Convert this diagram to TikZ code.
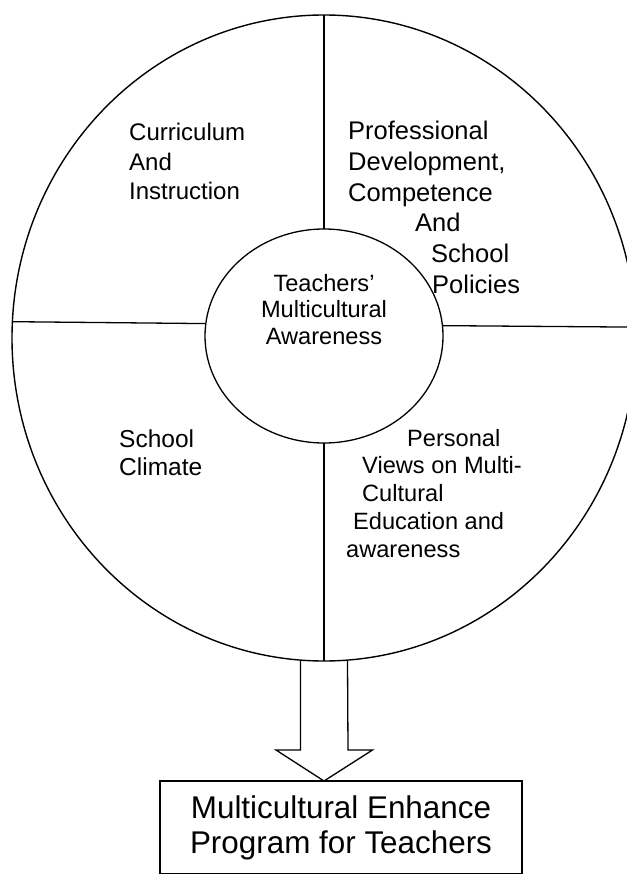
\documentclass[tikz,border=0pt]{standalone}
\usepackage{fontspec}
\setmainfont{Liberation Sans}
\usetikzlibrary{shapes,positioning,calc}

\begin{document}
\begin{tikzpicture}[
  x=1pt, y=-1pt,
  ring/.style={draw, ellipse, line width=1.4pt, inner sep=0pt, outer sep=0pt},
  divide/.style={line width=1.3pt},
  sector/.style={anchor=base west, align=left, inner sep=0pt},
  hubtext/.style={anchor=base, align=center, inner sep=0pt,
                  font=\fontsize{23.6}{26.5}\selectfont},
  progbox/.style={draw, line width=1.3pt, minimum width=362, minimum height=93,
                  inner sep=0pt, outer sep=0pt, align=center,
                  font=\fontsize{31.4}{35}\selectfont}
]
\useasboundingbox (0,0) rectangle (626,874);

% Outer circle and the hub in the middle
\node[ring, minimum width=624, minimum height=646] (outer) at (324,338) {};
\node[ring, line width=1.3pt, minimum width=238, minimum height=214] (hub) at (324,336) {};

% Quarter lines
\draw[divide] (outer.north) -- (hub.north);
\draw[divide] (hub.south) -- (outer.south);
\draw[divide] (outer.177.6) -- (hub.174.7);
\draw[divide] (hub.5.3) -- (outer.2.4);

% Hub text (base = last line)
\node[hubtext] (aware) at (324,344) {Teachers’\\Multicultural\\Awareness};

% Quarter texts, placed by the baseline of their last line
\node[sector, font=\fontsize{24}{29.5}\selectfont] (curric) at (129,200)
  {Curriculum\\And\\Instruction};
\node[sector, font=\fontsize{25.5}{30.6}\selectfont] (profdev) at (348,293)
  {Professional\\Development,\\Competence\\\hspace*{67pt}And\\\hspace*{83pt}School\\\hspace*{84pt}Policies};
\node[sector, font=\fontsize{24.5}{28}\selectfont] (climate) at (119,475)
  {School\\Climate};
\node[sector, font=\fontsize{23.6}{27.7}\selectfont] (views) at (346,557)
  {\hspace*{61pt}Personal\\\hspace*{16pt}Views on Multi-\\\hspace*{16pt}Cultural\\\hspace*{7pt}Education and\\awareness};

% Program box and the block arrow into it
\node[progbox] (prog) at (341,827.5) {Multicultural Enhance\\Program for Teachers};

\draw[divide, line join=miter] ($(outer.south)+(-23.5,0)$) -- ++(0,89) -- ++(-24.5,0)
  -- (outer.south |- prog.north) -- ++(48.5,-31) -- ++(-24.5,0)
  -- ($(outer.south)+(23.5,0)$);

\end{tikzpicture}
\end{document}
